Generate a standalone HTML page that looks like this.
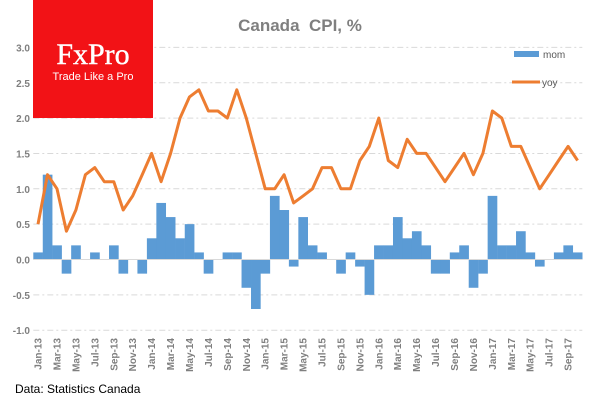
<!DOCTYPE html>
<html><head><meta charset="utf-8"><style>
html,body{margin:0;padding:0;background:#fff;}
svg{display:block;font-family:"Liberation Sans",sans-serif;}
</style></head><body>
<svg id="chart" width="600" height="400" viewBox="0 0 600 400">
<text x="300" y="31" text-anchor="middle" font-size="17" font-weight="bold" fill="#7f7f7f" style="white-space:pre">Canada  CPI, %</text>
<g id="grid"></g>
<g id="bars"></g>
<g id="line"></g>
<g id="yticks"></g>
<g id="xticks"></g>
<rect x="33" y="0" width="120" height="118" fill="#f21216"/>
<text x="93" y="64" text-anchor="middle" font-family="Liberation Serif,serif" font-size="30" fill="#fff" stroke="#fff" stroke-width="0.4">FxPro</text>
<text x="93" y="80" text-anchor="middle" font-size="11" fill="#fff">Trade Like a Pro</text>
<rect x="514" y="51" width="25" height="6" fill="#5b9bd5"/>
<text x="543" y="58" font-size="10" fill="#595959">mom</text>
<line x1="512" y1="82" x2="540" y2="82" stroke="#ed7d31" stroke-width="3"/>
<text x="542" y="86" font-size="10" fill="#595959">yoy</text>
<text x="15" y="393" font-size="12" fill="#000">Data: Statistics Canada</text>
</svg>
<script>
const months = ["Jan","Feb","Mar","Apr","May","Jun","Jul","Aug","Sep","Oct","Nov","Dec"];
const categories = [];
for (let y = 13; y <= 17; y++) for (let m = 0; m < 12; m++) if (categories.length < 58) categories.push(months[m] + "-" + y);
const momValues = [0.1,1.2,0.2,-0.2,0.2,0,0.1,0,0.2,-0.2,0,-0.2,0.3,0.8,0.6,0.3,0.5,0.1,-0.2,0,0.1,0.1,-0.4,-0.7,-0.2,0.9,0.7,-0.1,0.6,0.2,0.1,0,-0.2,0.1,-0.1,-0.5,0.2,0.2,0.6,0.3,0.4,0.2,-0.2,-0.2,0.1,0.2,-0.4,-0.2,0.9,0.2,0.2,0.4,0.1,-0.1,0,0.1,0.2,0.1];
const yoyValues = [0.5,1.2,1.0,0.4,0.7,1.2,1.3,1.1,1.1,0.7,0.9,1.2,1.5,1.1,1.5,2.0,2.3,2.4,2.1,2.1,2.0,2.4,2.0,1.5,1.0,1.0,1.2,0.8,0.9,1.0,1.3,1.3,1.0,1.0,1.4,1.6,2.0,1.4,1.3,1.7,1.5,1.5,1.3,1.1,1.3,1.5,1.2,1.5,2.1,2.0,1.6,1.6,1.3,1.0,1.2,1.4,1.6,1.4];
const yTicks = [-1.0,-0.5,0.0,0.5,1.0,1.5,2.0,2.5,3.0];

const NS = "http://www.w3.org/2000/svg";
const x0 = 33.3, x1 = 582.3;
const bw = (x1 - x0) / categories.length;
const xPos = i => x0 + bw * i;
const yPos = v => 259.5 - v * 70.7;
function mk(tag, attrs, parent) {
  const e = document.createElementNS(NS, tag);
  for (const k in attrs) e.setAttribute(k, attrs[k]);
  document.getElementById(parent).appendChild(e);
  return e;
}
yTicks.forEach(t => {
  if (t !== 0) {
    const g = mk("line", {x1: x0, x2: x1, y1: yPos(t), y2: yPos(t), stroke: "#d9d9d9", "stroke-width": 1, "stroke-dasharray": "6,3,2,3"}, "grid");
    
    
  }
  const l = mk("text", {x: 30, y: yPos(t) + 4, "text-anchor": "end", "font-size": 10, "font-weight": "bold", fill: "#7f7f7f"}, "yticks");
  l.textContent = t.toFixed(1);
  
  
});
momValues.forEach((v, i) => {
  const y = Math.min(yPos(v), yPos(0));
  const b = mk("rect", {x: xPos(i), y: y, width: bw + 0.2, height: Math.abs(yPos(v) - yPos(0)), fill: "#5b9bd5"}, "bars");
  
  
});
const ax = mk("line", {x1: x0, x2: x1, y1: yPos(0), y2: yPos(0), stroke: "#d9d9d9", "stroke-width": 1}, "bars");


const pts = yoyValues.map((v, i) => (xPos(i) + bw / 2).toFixed(1) + "," + yPos(v).toFixed(1)).join(" ");
const pl = mk("polyline", {points: pts, fill: "none", stroke: "#ed7d31", "stroke-width": 3, "stroke-linejoin": "round"}, "line");


categories.forEach((c, i) => {
  if (i % 2) return;
  const cx = xPos(i) + bw / 2 + 3.5;
  const t = mk("text", {x: cx, y: 338, "text-anchor": "end", "font-size": 10, "font-weight": "bold", fill: "#7f7f7f", transform: "rotate(-90 " + cx + " 338)"}, "xticks");
  t.textContent = c;
  
  
});
</script>
</body></html>
